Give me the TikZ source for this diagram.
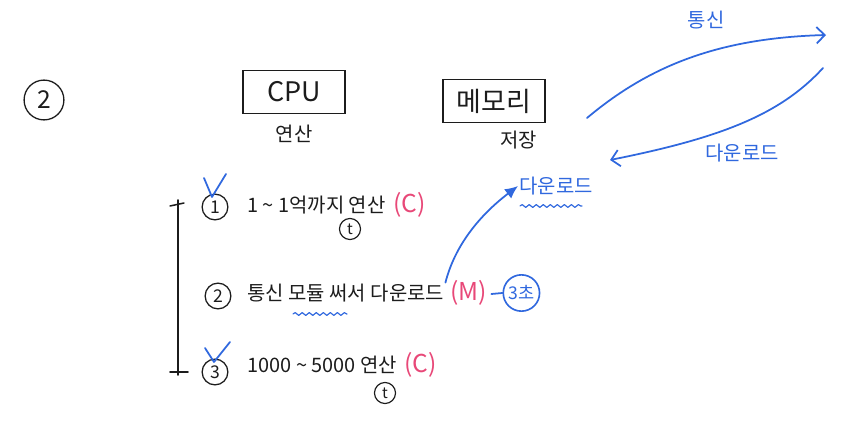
\documentclass[tikz,border=0pt]{standalone}
\usepackage{fontspec}
\setmainfont{Noto Sans CJK KR}
\usetikzlibrary{arrows.meta,positioning,decorations.pathmorphing}
\definecolor{penblue}{RGB}{48,104,222}
\definecolor{penpink}{RGB}{232,72,120}
\definecolor{penblack}{RGB}{28,28,28}
\newcommand{\wave}{\textasciitilde}

\begin{document}
\begin{tikzpicture}[
  x=0.03cm, y=-0.03cm,
  every node/.style={font=\fontsize{17}{20}\selectfont, text=penblack, inner sep=1pt},
  pen/.style={line width=1.3pt, draw=penblack, line cap=round, line join=round},
  bluepen/.style={line width=1.5pt, draw=penblue, line cap=round, line join=round},
  numcirc/.style={circle, draw=penblack, line width=1.1pt, minimum size=22pt, inner sep=0pt,
    font=\fontsize{15}{18}\selectfont},
  tcirc/.style={circle, draw=penblack, line width=1pt, minimum size=18pt, inner sep=0pt,
    font=\fontsize{13}{15}\selectfont},
  hwbox/.style={draw=penblack, line width=1.3pt, minimum width=87pt, minimum height=37pt,
    font=\fontsize{23}{26}\selectfont},
  bluetext/.style={text=penblue},
  pinktext/.style={text=penpink, font=\fontsize{21}{24}\selectfont},
  wavy/.style={bluepen, line width=1pt, decorate,
    decoration={snake, amplitude=1.2pt, segment length=6pt}},
  >=Stealth
]
\useasboundingbox (0,0) rectangle (866,425);

% ── Section number ───────────────────────────────────────────────────────
\node[numcirc, minimum size=34pt, font=\fontsize{21}{24}\selectfont] (sec) at (44,100) {2};

% ── CPU and memory boxes ─────────────────────────────────────────────────
\node[hwbox] (cpu) at (294,92) {CPU};
\node[below=8pt of cpu] (calc) {연산};
\node[hwbox] (mem) at (494,101) {메모리};
\node[below=5pt of mem.south east, anchor=north east, xshift=-6pt] (store) {저장};

% ── Communication / download loop ────────────────────────────────────────
\coordinate (lstart) at (587,118);
\coordinate (rtop) at (826,35);
\coordinate (rbot) at (823,68);
\coordinate (lend) at (610,160);
\draw[bluepen, -{Straight Barb[length=7pt,width=14pt]}] (lstart)
  .. controls (650,65) and (720,38) .. (rtop);
\node[bluetext] (comm) at (706,20) {통신};
\draw[bluepen, -{Straight Barb[length=7pt,width=14pt]}] (rbot)
  .. controls (780,115) and (720,138) .. (lend);
\node[bluetext] (down) at (742,153) {다운로드};

% ── Bracket ──────────────────────────────────────────────────────────────
\draw[pen] (178,200) -- (178,375);
\draw[pen] (170,206) -- (184,203);
\draw[pen] (170,372) -- (188,372);

% ── Item 1 ───────────────────────────────────────────────────────────────
\node[numcirc] (one) at (215,207) {1};
\node[anchor=west] (task1) at (246,205) {1 \wave{} 1억까지 연산};
\node[pinktext, right=4pt of task1] (c1) {(C)};
\node[tcirc] (t1) at (350,229) {t};
\draw[bluepen] (204,178) -- (212,197) -- (226,174);

% ── Item 2 ───────────────────────────────────────────────────────────────
\node[numcirc] (two) at (218,296) {2};
\node[anchor=west] (task2) at (246,293) {통신 모듈 써서 다운로드};
\node[pinktext, right=3pt of task2] (m2) {(M)};
\node[circle, draw=penblue, line width=1.4pt, minimum size=31pt, inner sep=0pt,
  text=penblue, font=\fontsize{15}{17}\selectfont, right=12pt of m2] (sec3) {3초};
\draw[bluepen] (m2.east) ++(3,1) coordinate (dashl) -- (sec3.west);
\draw[wavy] (293,314) -- (347,314);

% ── Download target ──────────────────────────────────────────────────────
\node[bluetext, anchor=west] (dl) at (518,186) {다운로드};
\draw[wavy] (520,206) -- (582,206);
\draw[bluepen, -{Latex[length=11pt,width=10pt]}] (task2.north east)
  .. controls (455,245) and (480,215) .. (dl.west);

% ── Item 3 ───────────────────────────────────────────────────────────────
\node[numcirc] (three) at (215,372) {3};
\node[anchor=west] (task3) at (246,365) {1000 \wave{} 5000 연산};
\node[pinktext, right=4pt of task3] (c3) {(C)};
\node[tcirc] (t3) at (385,393) {t};
\draw[bluepen] (205,348) -- (214,362) -- (230,342);

\end{tikzpicture}
\end{document}
